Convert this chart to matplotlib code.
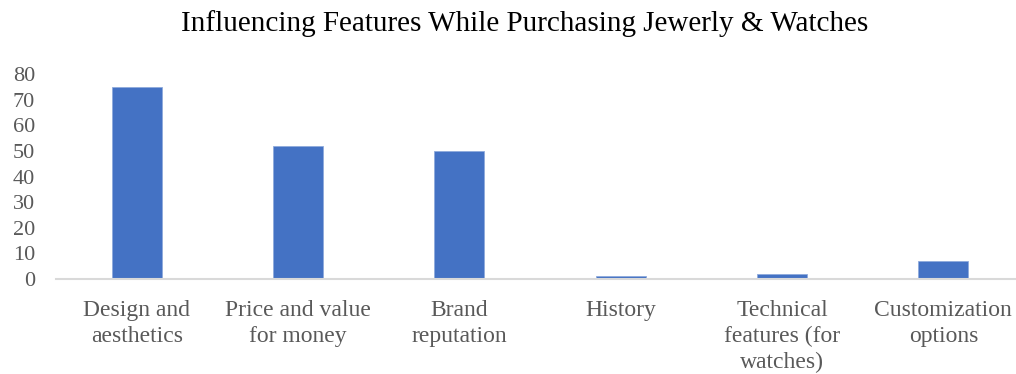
import matplotlib.pyplot as plt

plt.rcParams['font.family'] = 'Liberation Serif'

categories = ['Design and\naesthetics', 'Price and value\nfor money', 'Brand\nreputation',
              'History', 'Technical\nfeatures (for\nwatches)', 'Customization\noptions']
values = [75, 52, 50, 1, 2, 7]
yticks = [0, 10, 20, 30, 40, 50, 60, 70, 80]

fig = plt.figure(figsize=(10.16, 3.74), dpi=100)
ax = fig.add_axes([56 / 1016, 1 - 279 / 374, 968 / 1016, 205 / 374])

x = range(len(categories))
ax.bar(x, values, width=0.31, color='#4472C4', edgecolor='#8FAADC', linewidth=0.6, zorder=2)

ax.set_xlim(-0.5, len(categories) - 0.5)
ax.set_ylim(0, 80)
ax.set_yticks(yticks)
ax.set_xticks(list(x))
ax.set_xticklabels(categories, fontsize=17, color='#595959', linespacing=1.3)
ax.tick_params(axis='y', labelsize=16, labelcolor='#595959', length=0, pad=15)
ax.tick_params(axis='x', length=0, pad=15)

for s in ['top', 'right', 'left']:
    ax.spines[s].set_visible(False)
ax.spines['bottom'].set_color('#D9D9D9')
ax.spines['bottom'].set_linewidth(1.5)

fig.text(525 / 1016, 1 - 24 / 374, 'Influencing Features While Purchasing Jewerly & Watches',
         ha='center', va='center', fontsize=21, color='black')

fig.savefig('out.png', dpi=100)
